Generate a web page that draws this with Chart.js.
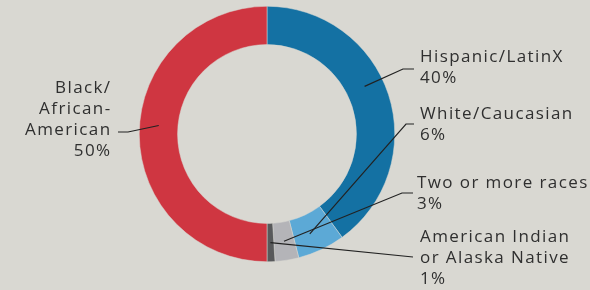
<!DOCTYPE html>
<html>
<head>
<meta charset="utf-8">
<script src="https://cdn.jsdelivr.net/npm/chart.js@4/dist/chart.umd.min.js"></script>
<style>
  html, body { margin: 0; padding: 0; background: #d9d8d2; }
  #wrap { width: 590px; height: 290px; position: relative; }
</style>
</head>
<body>
<div id="wrap"><canvas id="c" width="590" height="290"></canvas></div>
<script>
// ---- data ----
const categories = ['Hispanic/LatinX', 'White/Caucasian', 'Two or more races', 'American Indian or Alaska Native', 'Black/African-American'];
const shares = [40, 6, 3, 1, 50];
const labelLines = [
  ['Hispanic/LatinX'],
  ['White/Caucasian'],
  ['Two or more races'],
  ['American Indian', 'or Alaska Native'],
  ['Black/', 'African-', 'American']
];
const sliceColors = ['#1471a3', '#5ca9d6', '#b4b4b8', '#58595b', '#cf3641'];

// ---- layout (label placement only) ----
const labelLayout = [
  { x: 420, y: 62, align: 'left', tweak: -8, elbow: [403, 69], end: [414, 69] },
  { x: 420, y: 119, align: 'left', tweak: 2, elbow: [406, 124], end: [414, 124] },
  { x: 417, y: 188, align: 'left', tweak: 0, elbow: [402, 193], end: [413, 193] },
  { x: 420, y: 242, align: 'left', tweak: 0, elbow: [413, 257], end: [413, 257] },
  { x: 111.5, y: 93, align: 'right', tweak: 4.5, elbow: [128, 132], end: [118, 132] }
];
const LINE_H = 21;

const labelPlugin = {
  id: 'leaderLabels',
  afterDatasetsDraw(chart) {
    const ctx = chart.ctx;
    const meta = chart.getDatasetMeta(0);
    ctx.save();
    ctx.font = '17px "Open Sans", sans-serif';
    try { ctx.letterSpacing = '1.4px'; } catch (e) {}
    ctx.fillStyle = '#2f2f2f';
    ctx.strokeStyle = '#222222';
    ctx.lineWidth = 1.2;
    meta.data.forEach((arc, i) => {
      const L = labelLayout[i];
      const p = arc.getProps(['x', 'y', 'startAngle', 'endAngle', 'innerRadius', 'outerRadius'], true);
      const mid = (p.startAngle + p.endAngle) / 2 + L.tweak * Math.PI / 180;
      const r = (p.innerRadius + p.outerRadius) / 2;
      const ax = p.x + Math.cos(mid) * r;
      const ay = p.y + Math.sin(mid) * r;
      ctx.beginPath();
      ctx.moveTo(ax, ay);
      ctx.lineTo(L.elbow[0], L.elbow[1]);
      ctx.lineTo(L.end[0], L.end[1]);
      ctx.stroke();
      const lines = labelLines[i].concat([shares[i] + '%']);
      ctx.textAlign = L.align;
      ctx.textBaseline = 'alphabetic';
      lines.forEach((t, k) => ctx.fillText(t, L.x, L.y + k * LINE_H));
    });
    ctx.restore();
  }
};

new Chart(document.getElementById('c'), {
  type: 'doughnut',
  data: {
    labels: categories,
    datasets: [{
      data: shares,
      backgroundColor: sliceColors,
      borderColor: '#d9d8d2',
      borderWidth: 0.5,
      hoverOffset: 0
    }]
  },
  options: {
    responsive: false,
    animation: false,
    cutout: '70%',
    rotation: 0,
    layout: { padding: { left: 100, right: 156, top: 6, bottom: 28 } },
    plugins: { legend: { display: false }, tooltip: { enabled: false } },
    events: []
  },
  plugins: [labelPlugin]
});
</script>
</body>
</html>
